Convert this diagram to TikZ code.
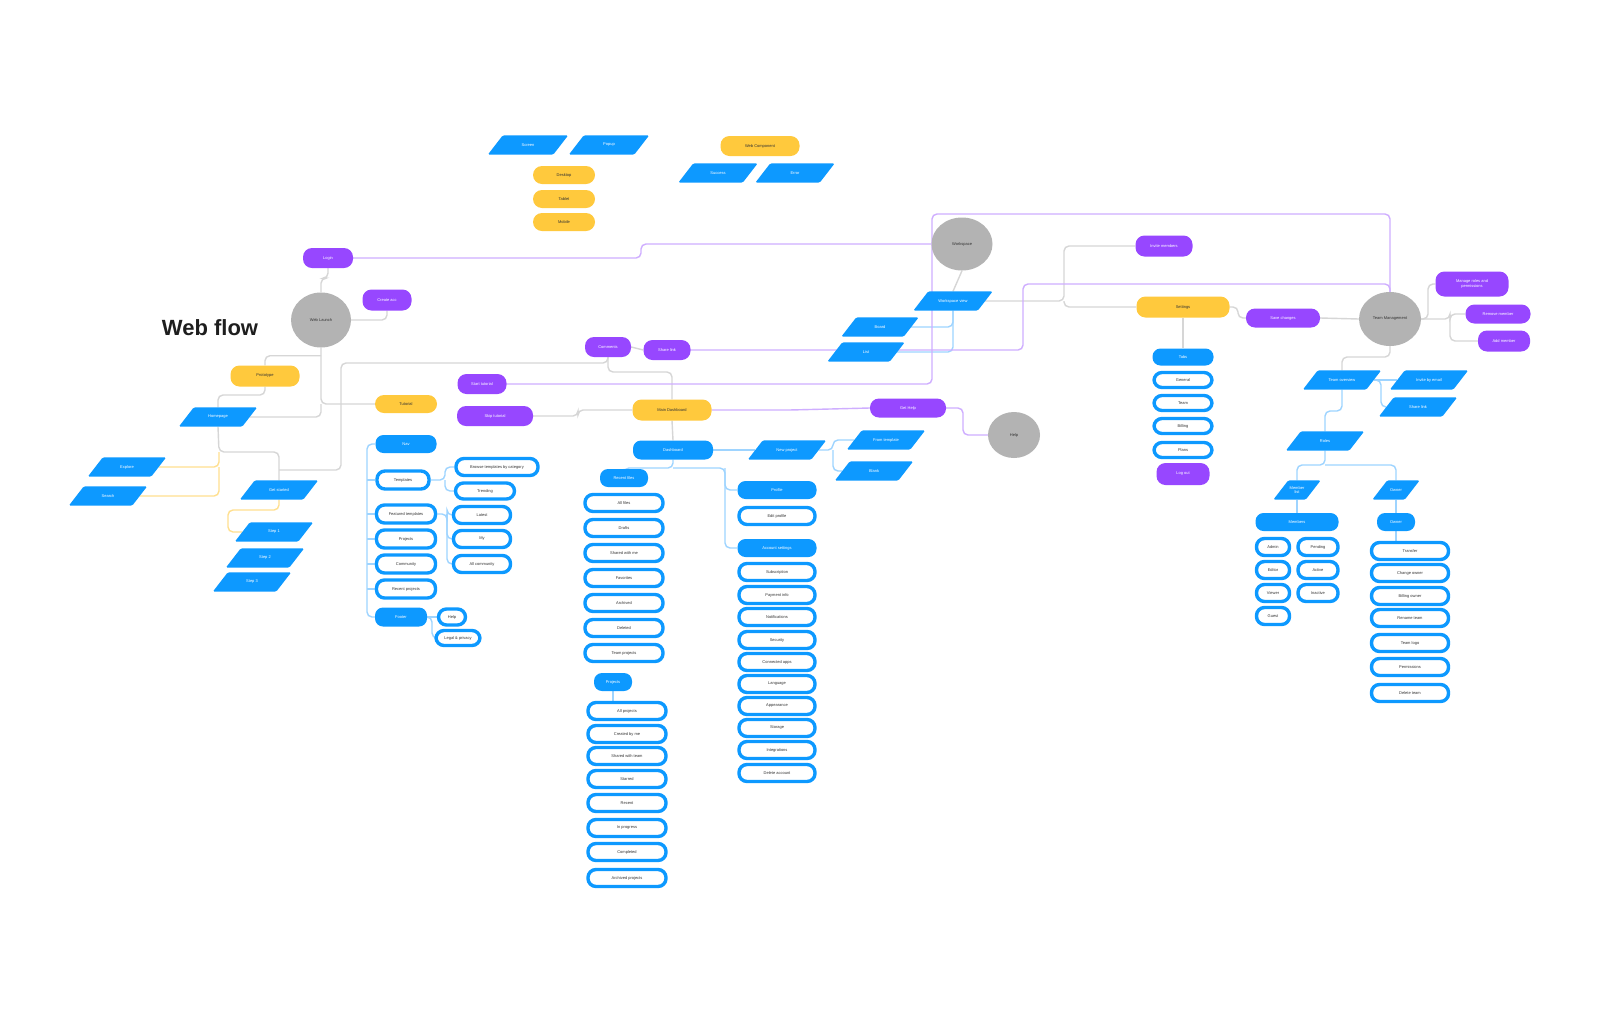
\documentclass[tikz,border=0pt]{standalone}
\usepackage{fontspec}
\setmainfont{Liberation Sans}
\usetikzlibrary{shapes.geometric,calc}
\definecolor{figblue}{HTML}{0D99FF}
\definecolor{figyellow}{HTML}{FFC93D}
\definecolor{figpurple}{HTML}{9747FF}
\definecolor{circgray}{HTML}{B3B3B3}
\definecolor{txtgray}{HTML}{333333}
\definecolor{titlec}{HTML}{1E1E1E}
\definecolor{glinec}{HTML}{D6D6D6}
\definecolor{plinec}{HTML}{CFAEFF}
\definecolor{blinec}{HTML}{9ED4FF}
\definecolor{ylinec}{HTML}{FFE08F}
\pgfdeclarelayer{bgl}\pgfdeclarelayer{edges}\pgfdeclarelayer{shapes}
\pgfsetlayers{bgl,edges,shapes,main}
\tikzset{
 lbl/.style={font=\fontsize{4}{4.6}\selectfont, inner sep=0pt, align=center},
 bpill/.style={lbl, fill=figblue, text=white, rounded corners=8pt, minimum height=18pt},
 opill/.style={lbl, draw=figblue, line width=3.4pt, fill=white, text=txtgray, rounded corners=8pt, minimum height=17pt},
 ypill/.style={lbl, fill=figyellow, text=txtgray, rounded corners=9pt, minimum height=20pt},
 ppill/.style={lbl, fill=figpurple, text=white, rounded corners=9pt, minimum height=20pt},
 circnode/.style={lbl, ellipse, fill=circgray, text=txtgray},
 ptext/.style={lbl, text=white, minimum height=19pt},
 conn/.style={line width=1.4pt, rounded corners=5pt},
 gline/.style={conn, draw=glinec},
 pline/.style={conn, draw=plinec},
 bline/.style={conn, draw=blinec},
 yline/.style={conn, draw=ylinec},
}
\newcommand{\pnode}[5]{%
 \node[ptext, minimum width=#4] (#1) at (#2,#3) {#5};
 \begin{pgfonlayer}{shapes}
 \fill[figblue, rounded corners=1.5pt] ([xshift=-7.5pt]#1.south west) -- ([xshift=-7.5pt]#1.south east) -- ([xshift=7.5pt]#1.north east) -- ([xshift=7.5pt]#1.north west) -- cycle;
 \end{pgfonlayer}}
\begin{document}
\begin{tikzpicture}[x=1pt,y=-1pt]
\begin{pgfonlayer}{bgl}
\fill[white] (0,0) rectangle (1600,1026);
\end{pgfonlayer}
\useasboundingbox (0,0) rectangle (1600,1026);

% ---------- legend ----------
\pnode{lg1}{528}{145}{65}{Screen}
\pnode{lg2}{609}{145}{65}{Popup}
\node[ypill, minimum width=62, minimum height=18] (ly1) at (564,175) {Desktop};
\node[ypill, minimum width=62, minimum height=18] (ly2) at (564,199) {Tablet};
\node[ypill, minimum width=62, minimum height=18] (ly3) at (564,222) {Mobile};
\node[ypill, minimum width=79] (ly4) at (760,146) {Web Component};
\pnode{lg3}{718}{173}{64}{Success}
\pnode{lg4}{795}{173}{64}{Error}

% ---------- title & launch ----------
\node[font=\fontsize{22}{24}\selectfont\bfseries, text=titlec, inner sep=0pt] (title) at (210,328) {Web flow};
\node[circnode, minimum width=60, minimum height=55] (circA) at (321,320) {Web Launch};
\node[ppill, minimum width=50] (pTop) at (328,258) {Login};
\node[ppill, minimum width=49, minimum height=21] (pAcc) at (387,300) {Create acc};
\node[ypill, minimum width=69, minimum height=21] (yProto) at (265,376) {Prototype};
\pnode{paraProto}{218}{417}{63}{Homepage}
\pnode{paraA}{127}{467}{63}{Explore}
\pnode{paraB}{108}{496}{63}{Search}
\pnode{paraC}{279}{490}{63}{Get started}
\pnode{paraD}{274}{532}{63}{Step 1}
\pnode{paraE}{265}{558}{63}{Step 2}
\pnode{paraF}{252}{582}{63}{Step 3}

% ---------- tutorial ----------
\node[ypill, minimum width=62, minimum height=18] (yTut) at (406,404) {Tutorial};
\node[ppill, minimum width=49] (pTut1) at (482,384) {Start tutorial};
\node[ppill, minimum width=76] (pTut2) at (495,416) {Skip tutorial};
\node[bpill, minimum width=61] (bTutH) at (406,444) {Nav};
\node[opill, minimum width=52, minimum height=18] (oT1) at (403,480) {Templates};
\node[opill, minimum width=59, minimum height=18] (oT2) at (406,514) {Featured templates};
\node[opill, minimum width=59, minimum height=18] (oT3) at (406,539) {Projects};
\node[opill, minimum width=59, minimum height=18] (oT4) at (406,564) {Community};
\node[opill, minimum width=59, minimum height=18] (oT5) at (406,589) {Recent projects};
\node[bpill, minimum width=52, minimum height=19] (bTutF) at (401,617) {Footer};
\node[opill, minimum width=82] (rT1) at (497,467) {Browse templates by category};
\node[opill, minimum width=59, minimum height=16] (rT2) at (485,491) {Trending};
\node[opill, minimum width=57] (rT3) at (482,515) {Latest};
\node[opill, minimum width=57] (rT4) at (482,539) {My};
\node[opill, minimum width=57] (rT5) at (482,564) {All community};
\node[opill, minimum width=27, minimum height=16] (fT1) at (452,617) {Help};
\node[opill, minimum width=44, minimum height=15] (fT2) at (458,638) {Legal \& privacy};

% ---------- homepage ----------
\node[ppill, minimum width=46] (pCom1) at (608,347) {Comments};
\node[ppill, minimum width=47] (pCom2) at (667,350) {Share link};
\node[ypill, minimum width=79, minimum height=21] (yHome) at (672,410) {Main Dashboard};
\node[ppill, minimum width=76, minimum height=19] (pGet) at (908,408) {Get Help};
\node[circnode, minimum width=52, minimum height=46] (circB) at (1014,435) {Help};
\node[bpill, minimum width=80, minimum height=19] (bHome) at (673,450) {Dashboard};
\pnode{paraH}{787}{450}{63}{New project}
\pnode{paraH1}{886}{440}{63}{From template}
\pnode{paraH2}{874}{471}{63}{Blank}
\node[bpill, minimum width=48] (bCol1) at (624,478) {Recent files};
\foreach \y/\t [count=\i] in {503/All files,528/Drafts,553/Shared with me,578/Favorites,603/Archived,628/Deleted,653/Team projects}
  {\node[opill, minimum width=78] (oCa\i) at (624,\y) {\t};}
\node[bpill, minimum width=38] (bCol2) at (613,682) {Projects};
\foreach \y/\t [count=\i] in {711/All projects,734/Created by me,756/Shared with team,779/Starred,803/Recent,828/In progress,852/Completed,878/Archived projects}
  {\node[opill, minimum width=78] (oCb\i) at (627,\y) {\t};}
\node[bpill, minimum width=79] (bR1) at (777,490) {Profile};
\node[opill, minimum width=76] (oR1) at (777,516) {Edit profile};
\node[bpill, minimum width=79] (bR2) at (777,548) {Account settings};
\foreach \y/\t [count=\i] in {572/Subscription,595/Payment info,617/Notifications,640/Security,662/Connected apps,684/Language,706/Appearance,728/Storage,750/Integrations,773/Delete account}
  {\node[opill, minimum width=76] (oRb\i) at (777,\y) {\t};}

% ---------- workspace ----------
\node[circnode, minimum width=61, minimum height=53] (circC) at (962,244) {Workspace};
\pnode{paraP}{953}{301}{64}{Workspace view}
\pnode{paraPa}{880}{327}{62}{Board}
\pnode{paraPb}{866}{352}{62}{List}
\node[ppill, minimum width=57, minimum height=21] (pSet) at (1164,246) {Invite members};
\node[ypill, minimum width=93, minimum height=21] (ySet) at (1183,307) {Settings};
\node[ppill, minimum width=74, minimum height=19] (pSet2) at (1283,318) {Save changes};
\node[bpill, minimum width=61, minimum height=17] (bS) at (1183,357) {Tabs};
\foreach \y/\t [count=\i] in {380/General,403/Team,426/Billing,450/Plans}
  {\node[opill, minimum width=58, minimum height=15] (oS\i) at (1183,\y) {\t};}
\node[ppill, minimum width=53, minimum height=22] (pS) at (1183,474) {Log out};

% ---------- team ----------
\node[circnode, minimum width=62, minimum height=54] (circD) at (1390,319) {Team Management};
\node[ppill, minimum width=73, minimum height=25] (pR1) at (1472,284) {Manage roles and\\permissions};
\node[ppill, minimum width=65, minimum height=19] (pR2) at (1498,314) {Remove member};
\node[ppill, minimum width=52, minimum height=21] (pR3) at (1504,341) {Add member};
\pnode{paraM}{1342}{380}{63}{Team overview}
\pnode{paraM1}{1429}{380}{63}{Invite by email}
\pnode{paraM2}{1418}{407}{63}{Share link}
\pnode{paraShop}{1325}{441}{63}{Roles}
\pnode{paraSa}{1297}{490}{32}{Member\\list}
\pnode{paraSb}{1396}{490}{32}{Owner}
\node[bpill, minimum width=83] (bSa) at (1297,522) {Members};
\node[bpill, minimum width=38] (bSb) at (1396,522) {Owner};
\foreach \y/\t [count=\i] in {547/Admin,570/Editor,593/Viewer,616/Guest}
  {\node[opill, minimum width=33] (oSl\i) at (1273,\y) {\t};}
\foreach \y/\t [count=\i] in {547/Pending,570/Active,593/Inactive}
  {\node[opill, minimum width=40] (oSr\i) at (1318,\y) {\t};}
\foreach \y/\t [count=\i] in {551/Transfer,573/Change owner,596/Billing owner,618/Rename team,643/Team logo,667/Permissions,693/Delete team}
  {\node[opill, minimum width=77] (oSb\i) at (1410,\y) {\t};}

% ---------- connectors ----------
\begin{pgfonlayer}{edges}
% gray
\draw[gline] (pTop.south) -- ++(0,10) -| (circA.north);
\draw[gline] (circA.east) -| (pAcc.south);
\draw[gline] (circA.south) |- (yTut.west);
\draw[gline] (yProto.north) |- ([yshift=-8pt]circA.south);
\draw[gline] (yProto.south) -- (265,395) -| (paraProto.north);
\draw[gline] (paraProto.east) -| (321,404);
\draw[gline] (paraProto.south) -- (219,452) -- (279,452) -- (paraC.north);
\draw[gline] (279,470) -- (341,470) -- (341,363) -| (pCom1.south);
\draw[gline] (pCom1.south) -- (608,372) -| (yHome.north);
\draw[gline] (pCom1.east) -- (pCom2.west);
\draw[gline] (pTut2.east) -- (578,416) |- (yHome.west);
\draw[gline] (yHome.south) -- (bHome.north);
\draw[gline] (circC.south) -- (paraP.north);
\draw[gline] (paraP.east) -- (1064,301) |- (pSet.west);
\draw[gline] (1064,301) |- (ySet.west);
\draw[gline] (ySet.east) -- (1238,307) |- (pSet2.west);
\draw[gline] (pSet2.east) -- (circD.west);
\draw[gline] (circD.east) -- (1428,319) |- (pR1.west);
\draw[gline] (circD.east) -- (1450,319) |- (pR2.west);
\draw[gline] (1450,319) |- (pR3.west);
\draw[gline] (ySet.south) -- (bS.north);
\draw[gline] (circD.south) -- (1390,357) -| (paraM.north);
% yellow
\draw[yline] (paraA.east) -- (219,467) -- (219,452);
\draw[yline] (paraB.east) -- (219,496) -- (219,467);
\draw[yline] (paraC.south) -- (279,510) -- (228,510) |- (paraD.west);
% blue
\draw[bline] (bTutH.west) -- (367,444) |- (bTutF.west);
\foreach \n in {oT1,oT2,oT3,oT4,oT5} {\draw[bline] (\n.west) -- (\n.west -| 367,0);}
\draw[bline] (oT1.east) -- (445,480) |- (rT1.west);
\draw[bline] (445,480) |- (rT2.west);
\draw[bline] (oT2.east) -- (447,514) |- (rT3.west);
\draw[bline] (447,514) |- (rT4.west);
\draw[bline] (447,514) |- (rT5.west);
\draw[bline] (bTutF.east) -- (fT1.west);
\draw[bline] (bTutF.east) -- (432,617) |- (fT2.west);
\draw[bline] (bHome.east) -- (paraH.west);
\draw[bline] (paraH.east) -- (833,450) |- (paraH1.west);
\draw[bline] (833,450) |- (paraH2.west);
\draw[bline] (bHome.south) -- (673,468) -| (bCol1.north);
\draw[bline] (673,468) -- (725,468) |- (bR1.west);
\draw[bline] (725,468) |- (bR2.west);
\draw[bline] (bCol2.south) -- (bCol2.south |- oCb1.north);
\draw[bline] (paraPa.east) -| (paraP.south);
\draw[bline] (paraPb.east) -| (paraP.south);
\draw[bline] (paraM.east) -- (paraM1.west);
\draw[bline] (paraM.east) -- (1381,380) |- (paraM2.west);
\draw[bline] (paraM.south) -- (1342,411) -| (paraShop.north);
\draw[bline] (paraShop.south) -- (1325,465) -| (paraSa.north);
\draw[bline] (1325,465) -| (paraSb.north);
\draw[bline] (paraSa.south) -- (bSa.north);
\draw[bline] (paraSb.south) -- (bSb.north);
\draw[bline] (bSb.south) -- (bSb.south |- oSb1.north);
% purple
\draw[pline] (pTop.east) -- (641,258) |- (circC.west);
\draw[pline] (pTut1.east) -- (932,384) -- (932,214) -- (1390,214) -- (circD.north);
\draw[pline] (pCom2.east) -- (1023,350) -- (1023,284) -- (1390,284) -- (circD.north);
\draw[pline] (yHome.east) -- (790,410) -- (pGet.west);
\draw[pline] (pGet.east) -- (963,408) |- (circB.west);
\end{pgfonlayer}
\end{tikzpicture}
\end{document}
